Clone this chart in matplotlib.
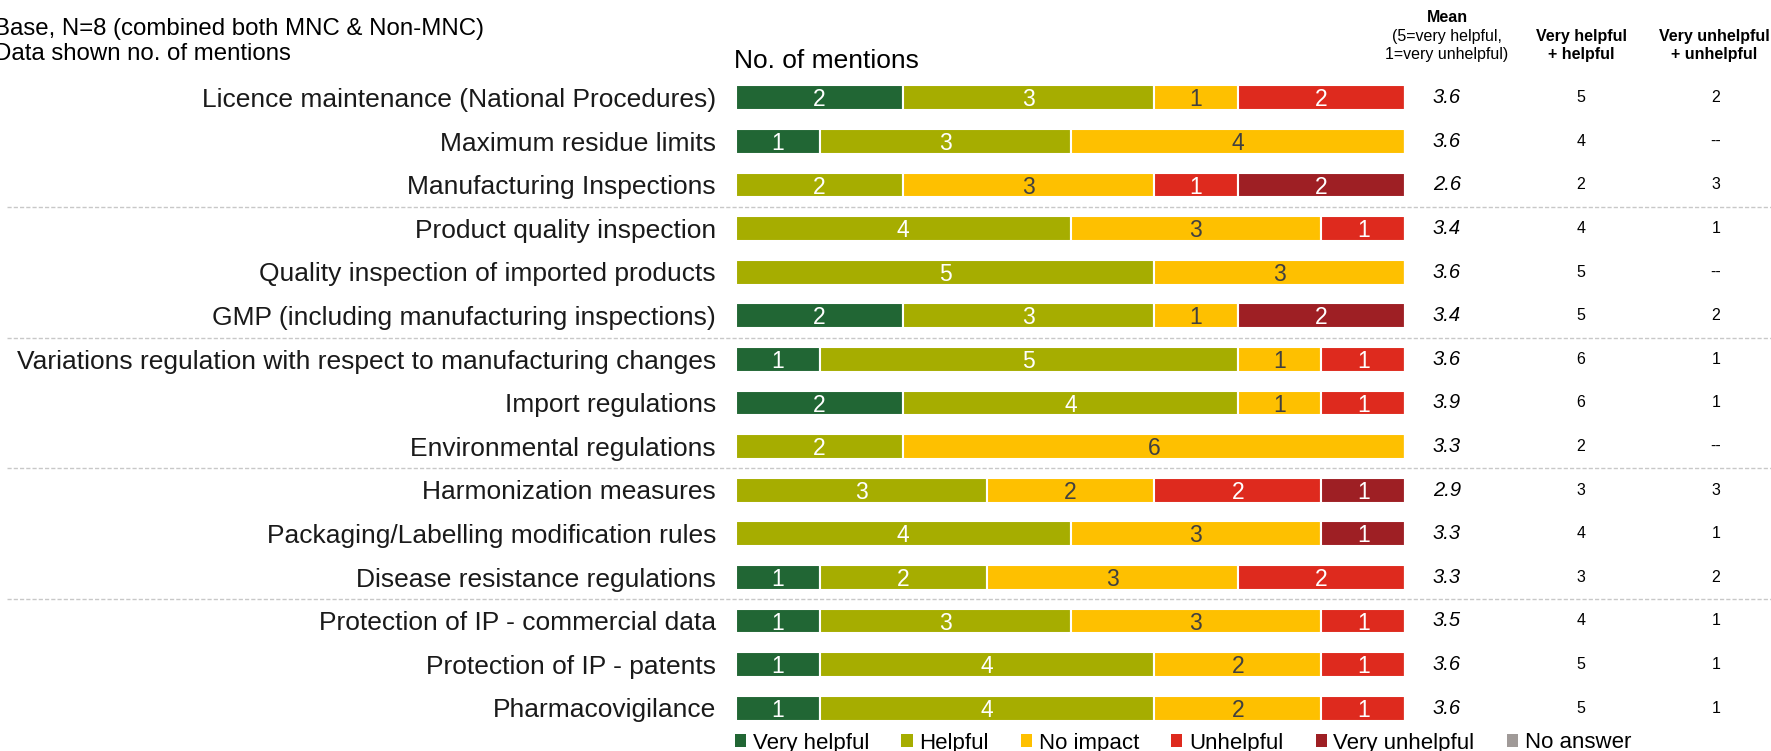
import numpy as np
import matplotlib
matplotlib.use("Agg")
import matplotlib.pyplot as plt
from matplotlib.patches import Patch
import matplotlib.transforms as mtransforms

plt.rcParams['font.family'] = ['Liberation Sans', 'DejaVu Sans']

labels = [
    "Licence maintenance (National Procedures)",
    "Maximum residue limits",
    "Manufacturing Inspections",
    "Product quality inspection",
    "Quality inspection of imported products",
    "GMP (including manufacturing inspections)",
    "Variations regulation with respect to manufacturing changes",
    "Import regulations",
    "Environmental regulations",
    "Harmonization measures",
    "Packaging/Labelling modification rules",
    "Disease resistance regulations",
    "Protection of IP - commercial data",
    "Protection of IP - patents",
    "Pharmacovigilance",
]
very_helpful = [2, 1, 0, 0, 0, 2, 1, 2, 0, 0, 0, 1, 1, 1, 1]
helpful = [3, 3, 2, 4, 5, 3, 5, 4, 2, 3, 4, 2, 3, 4, 4]
no_impact = [1, 4, 3, 3, 3, 1, 1, 1, 6, 2, 3, 3, 3, 2, 2]
unhelpful = [2, 0, 1, 1, 0, 0, 1, 1, 0, 2, 0, 2, 1, 1, 1]
very_unhelpful = [0, 0, 2, 0, 0, 2, 0, 0, 0, 1, 1, 0, 0, 0, 0]
no_answer = [0] * 15
means = ["3.6", "3.6", "2.6", "3.4", "3.6", "3.4", "3.6", "3.9", "3.3", "2.9", "3.3", "3.3", "3.5", "3.6", "3.6"]
top2 = ["5", "4", "2", "4", "5", "5", "6", "6", "2", "3", "4", "3", "4", "5", "5"]
bottom2 = ["2", "--", "3", "1", "--", "2", "1", "1", "--", "3", "1", "2", "1", "1", "1"]
series_names = ["Very helpful", "Helpful", "No impact", "Unhelpful", "Very unhelpful", "No answer"]
colors = ["#216634", "#a6ad00", "#fec000", "#de2a1e", "#9e1f24", "#a09a98"]
text_colors = ["white", "white", "#404040", "white", "white", "white"]
group_breaks = [2.5, 5.5, 8.5, 11.5]

W, H = 1771, 751
fig = plt.figure(figsize=(W / 100, H / 100), dpi=100)
ax = fig.add_axes([736 / W, 1 - 730 / H, (1405 - 736) / W, (730 - 76) / H])

series = [very_helpful, helpful, no_impact, unhelpful, very_unhelpful, no_answer]
y = np.arange(len(labels))
left = np.zeros(len(labels))
for vals, col, tc in zip(series, colors, text_colors):
    vals = np.array(vals, dtype=float)
    bars = ax.barh(y, vals, left=left, height=0.57, color=col, edgecolor="white", linewidth=1.5)
    for b, v in zip(bars, vals):
        if v > 0:
            ax.text(b.get_x() + b.get_width() / 2, b.get_y() + b.get_height() / 2 + 0.05, "%d" % v,
                    ha="center", va="center", color=tc, fontsize=16.5)
    left += vals

ax.set_xlim(0, 8)
ax.set_ylim(len(labels) - 0.5, -0.5)
ax.axis("off")

trans = mtransforms.blended_transform_factory(fig.transFigure, ax.transData)
for i, lab in enumerate(labels):
    ax.text(716 / W, i + 0.05, lab, transform=trans, ha="right", va="center", fontsize=19, color="#1a1a1a")
    ax.text(1447 / W, i, means[i], transform=trans, ha="center", va="center", fontsize=14.5, style="italic")
    ax.text(1581 / W, i, top2[i], transform=trans, ha="center", va="center", fontsize=11.5)
    ax.text(1716 / W, i, bottom2[i], transform=trans, ha="center", va="center", fontsize=11.5)

for yb in group_breaks:
    ax.plot([7 / W, 1.0], [yb, yb], transform=trans, color="#c8c8c8", lw=1, ls=(0, (3, 1.5)), clip_on=False)

fig.text(-6 / W, 1 - 29 / H, "Base, N=8 (combined both MNC & Non-MNC)", ha="left", va="center", fontsize=17.3)
fig.text(-6 / W, 1 - 54 / H, "Data shown no. of mentions", ha="left", va="center", fontsize=17.3)
fig.text(734 / W, 1 - 61 / H, "No. of mentions", ha="left", va="center", fontsize=19)

fig.text(1447 / W, 1 - 18 / H, "Mean", ha="center", va="center", fontsize=11.5, weight="bold")
fig.text(1447 / W, 1 - 37 / H, "(5=very helpful,", ha="center", va="center", fontsize=11.5)
fig.text(1447 / W, 1 - 55 / H, "1=very unhelpful)", ha="center", va="center", fontsize=11.5)
fig.text(1581 / W, 1 - 37 / H, "Very helpful", ha="center", va="center", fontsize=11.5, weight="bold")
fig.text(1581 / W, 1 - 55 / H, "+ helpful", ha="center", va="center", fontsize=11.5, weight="bold")
fig.text(1714 / W, 1 - 37 / H, "Very unhelpful", ha="center", va="center", fontsize=11.5, weight="bold")
fig.text(1714 / W, 1 - 55 / H, "+ unhelpful", ha="center", va="center", fontsize=11.5, weight="bold")

handles = [Patch(facecolor=c, edgecolor="none") for c in colors]
fig.legend(handles, series_names, loc="center", bbox_to_anchor=(1183 / W, 1 - 743 / H), ncol=6,
           frameon=False, fontsize=16, handlelength=0.5, handleheight=0.5, handletextpad=0.3,
           columnspacing=1.45, borderpad=0)

fig.savefig("out.png", dpi=100)
